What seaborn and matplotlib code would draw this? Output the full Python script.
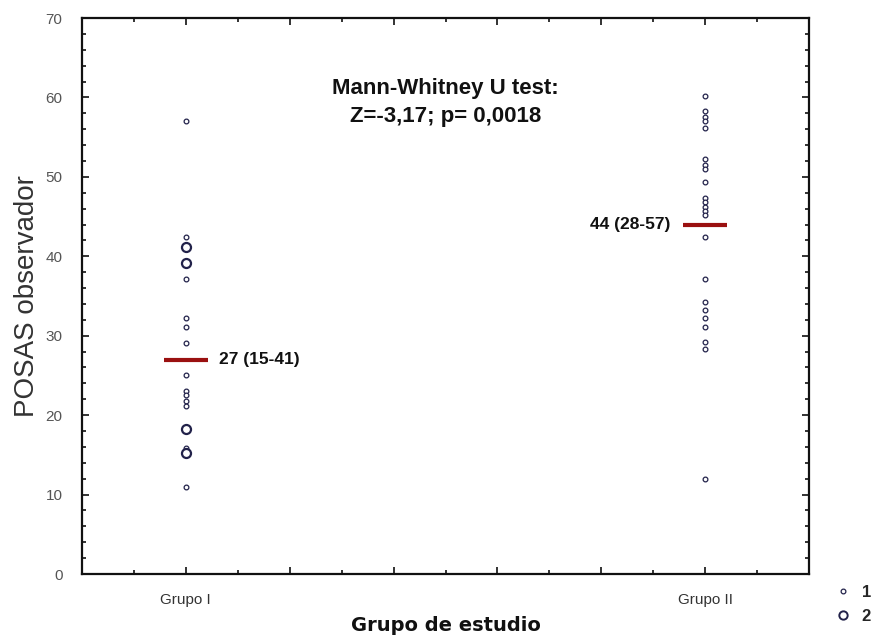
import matplotlib
matplotlib.use("Agg")
import matplotlib.pyplot as plt
from matplotlib.ticker import MultipleLocator, FuncFormatter
from matplotlib.lines import Line2D
import seaborn as sns
import pandas as pd

# ---- data ----
groups = ["Grupo I", "Grupo II"]
grupo1_values = [57, 42.4, 41.2, 39.2, 37.2, 32.2, 31.1, 29.1, 25.0, 23.1, 22.5,
                 21.8, 21.2, 18.2, 15.9, 15.2, 11.0]
grupo1_counts = [1, 1, 2, 2, 1, 1, 1, 1, 1, 1, 1, 1, 1, 2, 1, 2, 1]
grupo2_values = [60.2, 58.3, 57.5, 57.0, 56.2, 52.2, 51.5, 51.0, 49.4, 47.4, 46.8,
                 46.2, 45.7, 45.2, 42.4, 37.2, 34.3, 33.2, 32.2, 31.1, 29.2, 28.3, 12.0]
grupo2_counts = [1] * len(grupo2_values)
medians = [27, 44]
median_labels = ["27 (15-41)", "44 (28-57)"]
legend_labels = ["1", "2"]
yticks = [0, 10, 20, 30, 40, 50, 60, 70]
title_lines = ["Mann-Whitney U test:", "Z=-3,17; p= 0,0018"]

df = pd.DataFrame({
    "grupo": [groups[0]] * len(grupo1_values) + [groups[1]] * len(grupo2_values),
    "valor": grupo1_values + grupo2_values,
    "n": grupo1_counts + grupo2_counts,
})

sns.set_style("white")
plt.rcParams["font.family"] = ["Liberation Sans", "DejaVu Sans"]

fig = plt.figure(figsize=(8.77, 6.40), dpi=100)
ax = fig.add_axes([82 / 877, 1 - 574 / 640, (809 - 82) / 877, (574 - 18) / 640])

navy = "#22224a"
sns.stripplot(data=df[df["n"] == 1], x="grupo", y="valor", order=groups, jitter=False,
              marker="o", size=3.4, color="white", edgecolor=navy, linewidth=0.9, ax=ax)
sns.stripplot(data=df[df["n"] == 2], x="grupo", y="valor", order=groups, jitter=False,
              marker="o", size=6.5, color="white", edgecolor=navy, linewidth=1.6, ax=ax)

# median lines
half = 0.042
for i, m in enumerate(medians):
    ax.hlines(m, i - half, i + half, color="#9a1010", linewidth=3, zorder=5)

ax.text(0 + 0.063, medians[0], median_labels[0], ha="left", va="center",
        fontsize=12.5, fontweight="bold", color="#111111")
ax.text(1 - 0.066, medians[1], median_labels[1], ha="right", va="center",
        fontsize=12.5, fontweight="bold", color="#111111")

ax.text(0.5, 61.1, title_lines[0], ha="center", va="center",
        fontsize=16, fontweight="bold", color="#111111")
ax.text(0.5, 57.6, title_lines[1], ha="center", va="center",
        fontsize=16, fontweight="bold", color="#111111")

ax.set_xlim(-0.2, 1.2)
ax.set_ylim(0, 70)
ax.set_yticks(yticks)
ax.yaxis.set_minor_locator(MultipleLocator(2))
ax.xaxis.set_major_locator(MultipleLocator(0.2))
ax.xaxis.set_minor_locator(MultipleLocator(0.1))


def cat_label(v, pos):
    k = int(round(v))
    if abs(v - k) < 1e-6 and 0 <= k < len(groups):
        return groups[k]
    return ""


ax.xaxis.set_major_formatter(FuncFormatter(cat_label))

ax.tick_params(axis="both", which="both", direction="in", top=True, right=True,
               left=True, bottom=True, width=1.2, color="#111111")
ax.tick_params(axis="x", which="major", length=5, pad=14, labelsize=11,
               labelcolor="#333333")
ax.tick_params(axis="x", which="minor", length=3)
ax.tick_params(axis="y", which="major", length=5, labelsize=11, labelcolor="#555555", pad=14)
ax.tick_params(axis="y", which="minor", length=3)

for s in ax.spines.values():
    s.set_visible(True)
    s.set_color("#111111")
    s.set_linewidth(1.6)

ax.set_xlabel("Grupo de estudio", fontsize=14, fontweight="bold",
              family="DejaVu Sans", labelpad=6, color="#111111")
ax.set_ylabel("POSAS observador", fontsize=20, color="#333333", labelpad=4)

handles = [
    Line2D([], [], linestyle="none", marker="o", markersize=3.4,
           markerfacecolor="white", markeredgecolor=navy, markeredgewidth=0.9),
    Line2D([], [], linestyle="none", marker="o", markersize=6,
           markerfacecolor="white", markeredgecolor=navy, markeredgewidth=1.4),
]
leg = fig.legend(handles, legend_labels, loc="lower left", bbox_to_anchor=(0.935, 0.002),
                 frameon=False, handletextpad=0.6, handlelength=1.0, labelspacing=0.55,
                 prop={"size": 12, "weight": "bold"})

fig.savefig("out.png", dpi=100, facecolor="white")
